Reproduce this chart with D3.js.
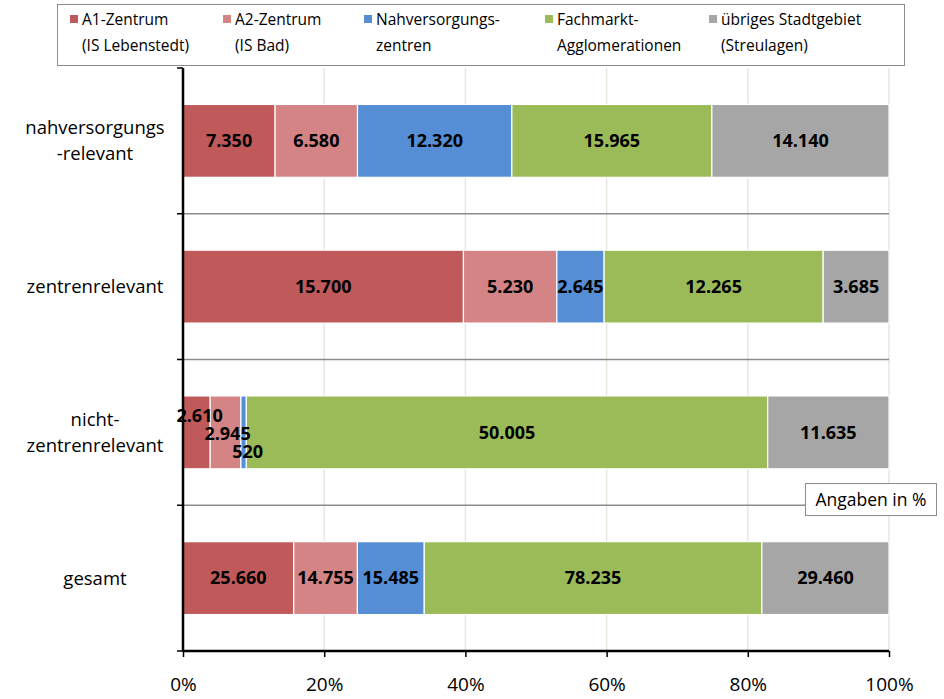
<!DOCTYPE html>
<html>
<head>
<meta charset="utf-8">
<script src="https://cdn.jsdelivr.net/npm/d3@7"></script>
<style>
  html, body { margin: 0; padding: 0; background: #fff; }
  svg { display: block; font-family: "Open Sans", "Liberation Sans", sans-serif; }
</style>
</head>
<body>
<svg id="chart" width="944" height="699"></svg>
<script>
// Verkaufsflächen nach Sortimentsgruppe und Standortlage
const categories = ["nahversorgungs-relevant", "zentrenrelevant", "nicht-zentrenrelevant", "gesamt"];
const categoryLines = [["nahversorgungs", "-relevant"], ["zentrenrelevant"], ["nicht-", "zentrenrelevant"], ["gesamt"]];

const seriesNames = ["A1-Zentrum", "A2-Zentrum", "Nahversorgungszentren", "Fachmarkt-Agglomerationen", "übriges Stadtgebiet"];
const seriesLegend = [
  ["A1-Zentrum", "(IS Lebenstedt)"],
  ["A2-Zentrum", "(IS Bad)"],
  ["Nahversorgungs-", "zentren"],
  ["Fachmarkt-", "Agglomerationen"],
  ["übriges Stadtgebiet", "(Streulagen)"]
];
const seriesColors = ["#C05A5A", "#D48485", "#558ED5", "#9BBB59", "#A6A6A6"];

const a1Values = [7350, 15700, 2610, 25660];
const a2Values = [6580, 5230, 2945, 14755];
const nvzValues = [12320, 2645, 520, 15485];
const fmaValues = [15965, 12265, 50005, 78235];
const streuValues = [14140, 3685, 11635, 29460];

const tickValues = [0, 0.2, 0.4, 0.6, 0.8, 1.0];
const tickLabels = ["0%", "20%", "40%", "60%", "80%", "100%"];

const allSeries = [a1Values, a2Values, nvzValues, fmaValues, streuValues];

const svg = d3.select("#chart");
const margin = { left: 183, right: 55, top: 68, bottom: 48 };
const W = 944, H = 699;

const x = d3.scaleLinear().domain([0, 1]).range([margin.left, W - margin.right]);
const y = d3.scaleBand().domain(categories).range([margin.top, H - margin.bottom]).paddingInner(0).paddingOuter(0);
const barH = y.bandwidth() * 0.5;

const fmt = d3.formatLocale({ decimal: ",", thousands: ".", grouping: [3], currency: ["", "€"] }).format(",d");

// row data: stacked shares per category
const rows = categories.map((c, i) => {
  const vals = allSeries.map(s => s[i]);
  const total = d3.sum(vals);
  let acc = 0;
  return vals.map((v, k) => {
    const seg = { cat: c, series: k, value: v, x0: acc / total, x1: (acc + v) / total };
    acc += v;
    return seg;
  });
});

// vertical gridlines
svg.append("g").selectAll("line").data(tickValues.slice(1)).join("line")
  .attr("x1", d => x(d)).attr("x2", d => x(d))
  .attr("y1", margin.top).attr("y2", H - margin.bottom)
  .attr("stroke", "#E4E4DA").attr("stroke-width", 1.3);

// horizontal separators between categories
const sepYs = categories.slice(1).map(c => y(c));
svg.append("g").selectAll("line").data(sepYs).join("line")
  .attr("x1", margin.left).attr("x2", x(1))
  .attr("y1", d => d).attr("y2", d => d)
  .attr("stroke", "#8C8C8C").attr("stroke-width", 1.5);

// bars
const barG = svg.append("g");
rows.forEach(row => {
  barG.selectAll(null).data(row).join("rect")
    .attr("x", d => x(d.x0))
    .attr("width", d => Math.max(0, x(d.x1) - x(d.x0)))
    .attr("y", d => y(d.cat) + (y.bandwidth() - barH) / 2)
    .attr("height", barH)
    .attr("fill", d => seriesColors[d.series])
    .attr("stroke", "#fff").attr("stroke-width", 1.2);
});

// value labels; the three narrow segments of the third row are staggered vertically
const staggered = { "nicht-zentrenrelevant": [-17, 1, 19, 0, 0] };
const labelG = svg.append("g");
rows.forEach(row => {
  labelG.selectAll(null).data(row).join("text")
    .attr("x", d => (x(d.x0) + x(d.x1)) / 2 + (staggered[d.cat] ? [3, 2, 4, 0, 0][d.series] : 0))
    .attr("y", d => y(d.cat) + y.bandwidth() / 2 + (staggered[d.cat] ? staggered[d.cat][d.series] : 0))
    .attr("dy", "0.35em")
    .attr("text-anchor", "middle")
    .attr("font-size", 18).attr("font-weight", "bold").attr("fill", "#000")
    .text(d => fmt(d.value));
});

// x axis
const xAxis = d3.axisBottom(x).tickValues(tickValues).tickFormat((d, i) => tickLabels[i]).tickSize(6).tickPadding(21);
const gx = svg.append("g").attr("transform", `translate(0,${H - margin.bottom})`).call(xAxis);
gx.select(".domain").attr("stroke", "#000").attr("stroke-width", 2.5).attr("d", `M${x(0)},0H${x(1)}`);
gx.selectAll(".tick line").attr("stroke", "#000").attr("stroke-width", 1.5);
gx.selectAll(".tick text").attr("font-size", 19).attr("fill", "#000").attr("font-family", "'Open Sans', sans-serif");

// y axis
const yEdges = categories.map(c => y(c)).concat([H - margin.bottom]);
svg.append("line").attr("x1", margin.left).attr("x2", margin.left)
  .attr("y1", margin.top).attr("y2", H - margin.bottom + 1)
  .attr("stroke", "#000").attr("stroke-width", 2.5);
svg.append("g").selectAll("line").data(yEdges).join("line")
  .attr("x1", margin.left - 6).attr("x2", margin.left)
  .attr("y1", d => d).attr("y2", d => d)
  .attr("stroke", "#000").attr("stroke-width", 1.5);

// category labels
const catG = svg.append("g");
categories.forEach((c, i) => {
  const lines = categoryLines[i];
  const cy = y(c) + y.bandwidth() / 2;
  const lh = 26;
  const t = catG.append("text").attr("text-anchor", "middle").attr("font-size", 18.5).attr("fill", "#000");
  lines.forEach((l, j) => {
    t.append("tspan").attr("x", 95)
      .attr("y", cy + (j - (lines.length - 1) / 2) * lh)
      .attr("dy", "0.35em").text(l);
  });
});

// legend
const lg = svg.append("g");
lg.append("rect").attr("x", 57.5).attr("y", 4.5).attr("width", 847).attr("height", 61)
  .attr("fill", "#fff").attr("stroke", "#8C8C8C").attr("stroke-width", 1);
const legendX = [70, 223, 364, 545, 709];
seriesNames.forEach((n, i) => {
  lg.append("rect").attr("x", legendX[i]).attr("y", 15).attr("width", 8).attr("height", 8).attr("fill", seriesColors[i]);
  const t = lg.append("text").attr("font-size", 15.5).attr("fill", "#000");
  seriesLegend[i].forEach((l, j) => {
    t.append("tspan").attr("x", legendX[i] + 12).attr("y", 25 + j * 26).text(l);
  });
});

// unit note
const note = svg.append("g");
note.append("rect").attr("x", 805.5).attr("y", 483.5).attr("width", 131).attr("height", 32)
  .attr("fill", "#fff").attr("stroke", "#8C8C8C").attr("stroke-width", 1);
note.append("text").attr("x", 871).attr("y", 500).attr("dy", "0.35em").attr("text-anchor", "middle")
  .attr("font-size", 17.5).attr("fill", "#000").text("Angaben in %");
</script>
</body>
</html>
